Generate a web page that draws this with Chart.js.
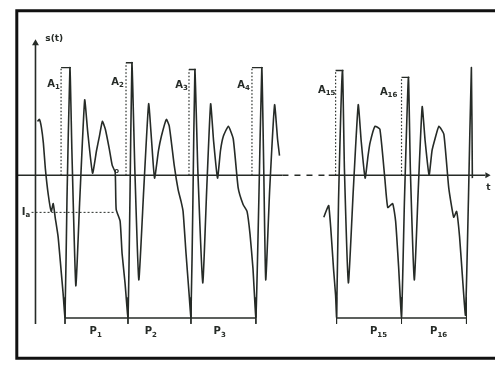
<!DOCTYPE html>
<html>
<head>
<meta charset="utf-8">
<script src="https://cdn.jsdelivr.net/npm/chart.js@4/dist/chart.umd.min.js"></script>
<style>
  html, body { margin: 0; padding: 0; background: #fff; }
  canvas { display: block; }
</style>
</head>
<body>
<canvas id="sigChart" width="499" height="368"></canvas>
<script>
// signal, first run (time, amplitude above the t axis)
const run1T = [34, 36, 38, 40, 42, 45, 48, 50, 52, 55, 58, 60, 62, 64, 67, 69, 73, 77, 82, 85, 90, 94, 97, 100, 103, 107, 110, 113,
               114, 118, 120, 123, 126, 128, 130, 133, 137, 142, 147, 150, 153, 157, 160, 165, 168, 173, 177, 180, 182, 185, 188, 190,
               192, 194, 197, 202, 206, 210, 213, 217, 220, 223, 228, 233, 238, 243, 247, 250, 253, 256, 259, 262, 264, 266, 270, 275, 278, 280];
const run1S = [55, 57, 49, 33, 7, -20, -37, -29, -43, -63, -97, -120, -145, -25, 110, 25, -113, -25, 77, 45, 2, 25, 40, 55, 47, 27, 10, 3,
               -35, -47, -80, -110, -145, -25, 115, 5, -107, -15, 73, 35, -3, 25, 40, 57, 50, 10, -15, -27, -37, -80, -120, -145,
               -25, 108, 5, -110, -15, 73, 35, -3, 25, 40, 50, 37, -13, -30, -37, -60, -95, -145, -25, 110, 5, -107, -15, 72, 37, 20];

// signal, second run after the break
const run2T = [325, 328, 330, 332, 335, 337, 338, 340, 344, 346, 350, 355, 360, 363, 367, 370, 372, 377, 382, 387, 390, 395, 398, 401,
               404, 407, 411, 413, 417, 421, 425, 428, 432, 435, 438, 442, 447, 452, 457, 460, 463, 466, 469, 472, 475, 476];
const run2S = [-43, -35, -31, -53, -97, -123, -145, -25, 107, 5, -110, -15, 72, 35, -3, 20, 33, 50, 47, -3, -33, -29, -47, -93,
               -145, -25, 100, 5, -107, -15, 70, 35, 0, 25, 37, 50, 42, -13, -43, -37, -63, -105, -143, -25, 110, -3];

// peak amplitudes A
const peakT   = [67, 130, 194, 262, 344, 411];
const peakA   = [110, 115, 108, 110, 107, 100];
const markT   = [58, 124, 188, 252, 337, 404];
const peakSub = ["1", "2", "3", "4", "15", "16"];
const peakLabT = [50, 115, 180, 243, 325, 388];
const peakLabA = [93, 95, 92, 92, 87, 85];

// period boundaries P
const bounds1 = [62, 126, 190, 256];
const bounds2 = [338, 404, 470];
const periodSub  = ["1", "2", "3", "15", "16"];
const periodLabT = [92, 148, 218, 377, 438];
const periodLabA = -160;
const bracketA = -146;

const iaLevel = -38;

const ink = "#262b27";

function xy(T, S) {
  return T.map((t, i) => ({ x: t, y: Array.isArray(S) ? S[i] : S }));
}
function stems(T, from, to) {
  const out = [];
  T.forEach((t, i) => {
    out.push({ x: t, y: Array.isArray(from) ? from[i] : from });
    out.push({ x: t, y: Array.isArray(to) ? to[i] : to });
    out.push({ x: t, y: null });
  });
  return out;
}
function caps() {
  const out = [];
  markT.forEach((t, i) => {
    out.push({ x: t, y: peakA[i] }, { x: peakT[i] + 1, y: peakA[i] }, { x: t, y: null });
  });
  return out;
}

function line(data, extra) {
  return Object.assign({
    data, borderColor: ink, borderWidth: 1.4, pointRadius: 0,
    fill: false, tension: 0, spanGaps: false
  }, extra || {});
}

// text labels, placed through the scales
const labelPlugin = {
  id: "labels",
  afterDatasetsDraw(chart) {
    const { ctx, scales: { x, y } } = chart;
    ctx.save();
    ctx.fillStyle = ink;
    ctx.textBaseline = "middle";

    const sub = (main, s, t, a, size) => {
      const px = x.getPixelForValue(t), py = y.getPixelForValue(a);
      ctx.font = `bold ${size}px "DejaVu Sans"`;
      ctx.textAlign = "left";
      ctx.fillText(main, px, py);
      const w = ctx.measureText(main).width;
      ctx.font = `bold ${size - 3}px "DejaVu Sans"`;
      ctx.fillText(s, px + w, py + 3);
    };

    peakSub.forEach((s, i) => sub("A", s, peakLabT[i] - 6, peakLabA[i], 10));
    periodSub.forEach((s, i) => sub("P", s, periodLabT[i] - 5, periodLabA, 10));
    sub("I", "a", 18, iaLevel, 10);

    ctx.font = 'bold 9px "DejaVu Sans"';
    ctx.textAlign = "left";
    ctx.fillText("s(t)", x.getPixelForValue(42), y.getPixelForValue(140));
    ctx.fillText("t", x.getPixelForValue(490), y.getPixelForValue(-13));
    ctx.font = 'bold 7px "DejaVu Sans"';
    ctx.fillText("o", x.getPixelForValue(112), y.getPixelForValue(4));
    ctx.restore();
  }
};

new Chart(document.getElementById("sigChart"), {
  type: "line",
  data: {
    datasets: [
      // frame (right side runs off the picture)
      line([{ x: 503, y: 168 }, { x: 13, y: 168 }, { x: 13, y: -187 }, { x: 503, y: -187 }],
           { borderColor: "#111", borderWidth: 3 }),
      // t axis
      line(xy([14, 283], 0), { borderWidth: 1.6 }),
      line(xy([283, 330], 0), { borderWidth: 1.6, borderDash: [6, 6] }),
      line(xy([330, 489], 0), { borderWidth: 1.6 }),
      line([{ x: 491, y: 0 }], { pointRadius: 3.5, pointStyle: "triangle", rotation: 90, pointBackgroundColor: ink, pointBorderWidth: 0 }),
      // s(t) axis
      line(xy([32, 32], [-152, 133]), { borderWidth: 1.6 }),
      line([{ x: 32, y: 135 }], { pointRadius: 4, pointStyle: "triangle", pointBackgroundColor: ink, pointBorderWidth: 0 }),
      // amplitude markers
      line(stems(markT, 0, peakA), { borderWidth: 1.2, borderDash: [1.5, 2] }),
      line(caps(), { borderWidth: 1.4 }),
      // Ia level
      line(xy([28, 112], iaLevel), { borderWidth: 1, borderDash: [2, 2] }),
      // period brackets
      line(xy([bounds1[0], bounds1[bounds1.length - 1]], bracketA), { borderWidth: 1.4 }),
      line(xy([bounds2[0], bounds2[bounds2.length - 1]], bracketA), { borderWidth: 1.4 }),
      line(stems(bounds1.concat(bounds2), -125, -152), { borderWidth: 1 }),
      // signal
      line(xy(run1T, run1S), { borderWidth: 1.6, tension: 0.15 }),
      line(xy(run2T, run2S), { borderWidth: 1.6, tension: 0.15 })
    ]
  },
  options: {
    responsive: false,
    animation: false,
    events: [],
    layout: { padding: 0 },
    plugins: { legend: { display: false }, tooltip: { enabled: false } },
    scales: {
      x: { type: "linear", min: 0, max: 499, display: false },
      y: { type: "linear", min: -193, max: 175, display: false }
    }
  },
  plugins: [labelPlugin]
});
</script>
</body>
</html>
